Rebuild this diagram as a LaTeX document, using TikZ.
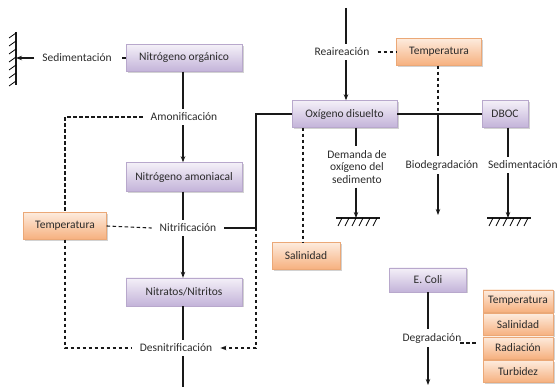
\documentclass[tikz,border=0pt]{standalone}
\usepackage{fontspec}
\setmainfont{Carlito}
\usetikzlibrary{arrows.meta,shadows,positioning}
\definecolor{ptop}{HTML}{F4F0F8}
\definecolor{pbot}{HTML}{C3B3D9}
\definecolor{pdraw}{HTML}{B8A8CC}
\definecolor{otop}{HTML}{FDEBDD}
\definecolor{obot}{HTML}{F6B07E}
\definecolor{odraw}{HTML}{EBA877}
\definecolor{txt}{HTML}{2B2B2B}
\tikzset{
  base/.style={rectangle, inner sep=0pt, font=\fontsize{11.5}{13}\selectfont, text=txt,
    drop shadow={shadow xshift=1.5pt, shadow yshift=-1.5pt, fill=black!35, opacity=0.5}},
  pbox/.style={base, top color=ptop, bottom color=pbot, draw=pdraw, line width=0.4pt},
  obox/.style={base, top color=otop, bottom color=obot, draw=odraw, line width=0.4pt},
  lbl/.style={inner xsep=8pt, inner ysep=4pt, font=\fontsize{11.5}{13}\selectfont, text=txt},
  ln/.style={line width=1.1pt, draw=black!90},
  dsh/.style={line width=1.1pt, draw=black!90, dash pattern=on 3.5pt off 2.5pt},
  arr/.style={-{Stealth[length=6pt,width=4.5pt]}},
}
\begin{document}
\begin{tikzpicture}[x=1pt,y=-1pt]
\useasboundingbox (0,0) rectangle (558,387);
% boxes
\node[pbox, minimum width=116pt, minimum height=27pt] (no) at (184,58) {Nitrógeno orgánico};
\node[pbox, minimum width=116pt, minimum height=29pt] (na) at (184,177) {Nitrógeno amoniacal};
\node[pbox, minimum width=116pt, minimum height=28pt] (nn) at (184,292) {Nitratos/Nitritos};
\node[pbox, minimum width=105pt, minimum height=27pt] (od) at (344.5,114) {Oxígeno disuelto};
\node[pbox, minimum width=46pt, minimum height=27pt] (dboc) at (505,114) {DBOC};
\node[pbox, minimum width=77pt, minimum height=24pt] (ec) at (428,280) {E. Coli};
\node[obox, minimum width=85pt, minimum height=27pt] (t1) at (439,52) {Temperatura};
\node[obox, minimum width=83pt, minimum height=27pt] (t2) at (65,226) {Temperatura};
\node[obox, minimum width=68pt, minimum height=27pt] (sal) at (306,256) {Salinidad};
\node[obox, minimum width=70pt, minimum height=22pt] (s1) at (518,301) {Temperatura};
\node[obox, minimum width=70pt, minimum height=22pt] (s2) at (518,324.5) {Salinidad};
\node[obox, minimum width=70pt, minimum height=22pt] (s3) at (518,348) {Radiación};
\node[obox, minimum width=70pt, minimum height=22pt] (s4) at (518,371.5) {Turbidez};
% labels
\node[lbl] (sed1) at (77,58) {Sedimentación};
\node[lbl] (amon) at (184,117) {Amonificación};
\node[lbl] (nitr) at (188,228) {Nitrificación};
\node[lbl] (desn) at (176,348) {Desnitrificación};
\node[lbl] (reai) at (342,52) {Reaireación};
\node[lbl, align=center, font=\fontsize{11.5}{12.5}\selectfont] (dem) at (357,167) {Demanda de\\oxígeno del\\sedimento};
\node[lbl] (bio) at (442,165) {Biodegradación};
\node[lbl, anchor=west, inner xsep=0pt] (sed2) at (488,165) {Sedimentación};
\node[lbl] (deg) at (432,338) {Degradación};
% coordinates
\coordinate (top) at (346,8);
\coordinate (wall) at (16,58);
\coordinate (g1) at (356,218);
\coordinate (g2) at (508,218);
\coordinate (bioend) at (438,215);
\coordinate (cross) at (438,114);
\coordinate (jn) at (256,114);
\coordinate (jn2) at (256,228);
\coordinate (jn3) at (256,348);
\coordinate (tl) at (65,117);
\coordinate (bl) at (65,348);
\coordinate (nbot) at (183,387);
\coordinate (ecend) at (428,385);
\coordinate (dga) at (460,343);
\coordinate (dgb) at (477,343);
% wall
\draw[ln] (16,32) -- (16,85);
\foreach \y in {33,41,49,57,65,73,81} \draw[line width=0.8pt] (16,\y) -- (9,\y+5);
% grounds
\draw[ln] (336,218) -- (380,218);
\foreach \x in {342,349,356,363,370,377} \draw[line width=0.8pt] (\x,218) -- (\x-4,226);
\draw[ln] (487,218) -- (531,218);
\foreach \x in {493,500,507,514,521,528} \draw[line width=0.8pt] (\x,218) -- (\x-4,226);
% nitrogen chain
\draw[ln, arr] (sed1.west) -- (wall);
\draw[ln] (no.west) -- ++(-4,0);
\draw[ln] (no.south -| 183,0) -- (amon.north -| 183,0);
\draw[ln, arr] (amon.south -| 183,0) -- (na.north -| 183,0);
\draw[ln] (na.south -| 183,0) -- (nitr.north -| 183,0);
\draw[ln, arr] (nitr.south -| 183,0) -- (nn.north -| 183,0);
\draw[ln] (nn.south -| 183,0) -- (desn.north -| 183,0);
\draw[ln] (desn.south -| 183,0) -- (nbot);
\draw[dsh] (amon.west) -- (tl) -- (t2.north);
\draw[dsh] (t2.east) -- (nitr.west);
\draw[dsh] (t2.south) -- (bl) -- (desn.west);
\draw[ln] (od.west) -- (jn) -- (jn2) -- (nitr.east);
\draw[dsh, arr] (jn2) -- (jn3) -- (desn.east);
% oxygen
\draw[ln] (top) -- (reai.north -| top);
\draw[ln, arr] (reai.south -| top) -- (od.north -| top);
\draw[dsh] (reai.east) -- (t1.west);
\draw[ln] (od.east) -- (dboc.west);
\draw[dsh] (t1.south -| cross) -- (cross);
\draw[ln] (cross) -- (bio.north -| cross);
\draw[ln, arr] (bio.south -| cross) -- (bioend);
\draw[dsh] (od.south -| 303,0) -- (sal.north -| 303,0);
\draw[ln] (od.south -| g1) -- (dem.north -| g1);
\draw[ln, arr] (dem.south -| g1) -- (g1);
\draw[ln] (dboc.south -| g2) -- (sed2.north -| g2);
\draw[ln, arr] (sed2.south -| g2) -- (g2);
% E. coli
\draw[ln] (ec.south) -- (deg.north -| ec.south);
\draw[ln, arr] (deg.south -| ec.south) -- (ecend);
\draw[dsh] (dga) -- (dgb);
\end{tikzpicture}
\end{document}
